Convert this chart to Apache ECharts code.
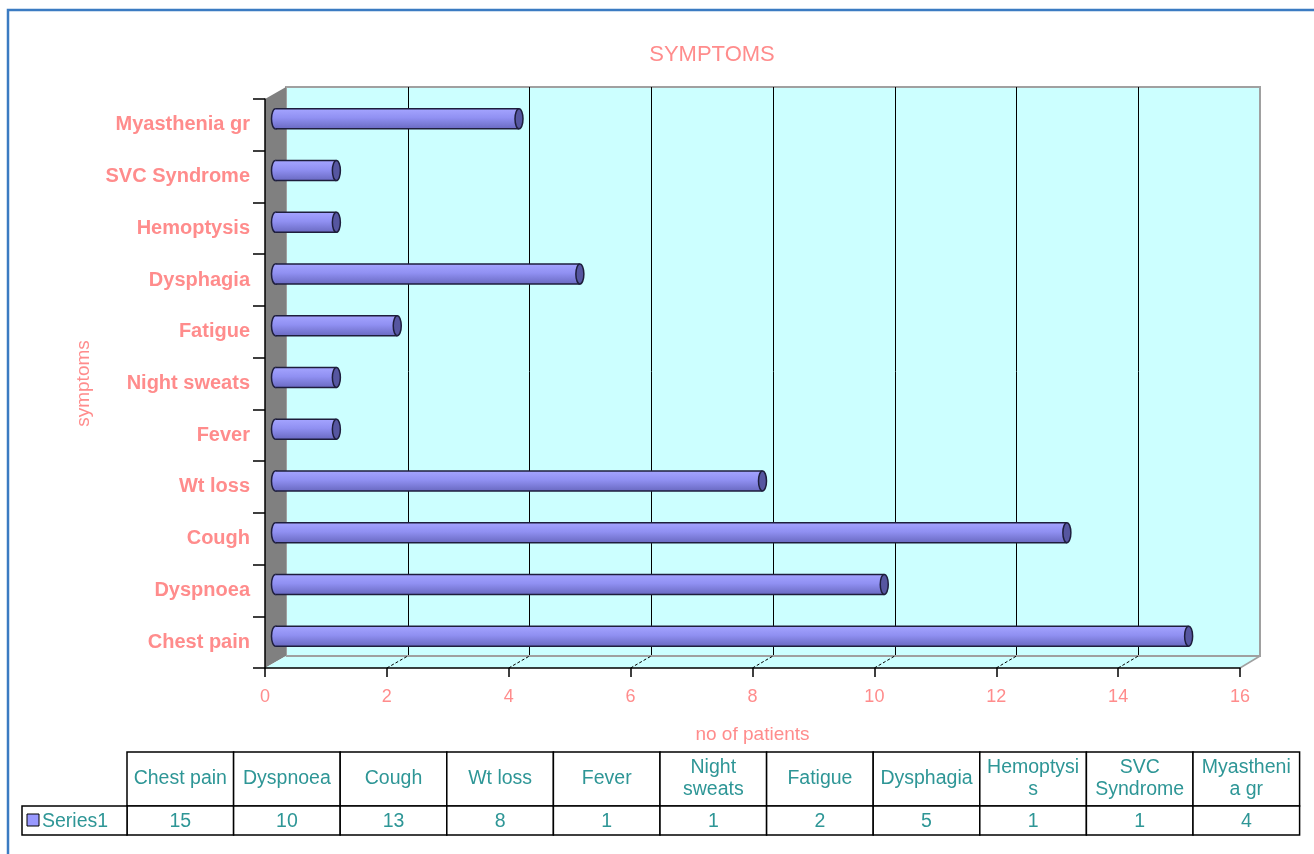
<!DOCTYPE html>
<html><head><meta charset="utf-8">
<script src="https://cdn.jsdelivr.net/npm/echarts@6/dist/echarts.min.js"></script>
<style>html,body{margin:0;padding:0;background:#fff}#c{width:1314px;height:854px}</style>
</head><body><div id="c"></div>
<script>
// ---- data ----
const categories = ['Chest pain','Dyspnoea','Cough','Wt loss','Fever','Night sweats','Fatigue','Dysphagia','Hemoptysis','SVC Syndrome','Myasthenia gr'];
const values = [15, 10, 13, 8, 1, 1, 2, 5, 1, 1, 4];
const tableLabels = ['Chest pain','Dyspnoea','Cough','Wt loss','Fever','Night\nsweats','Fatigue','Dysphagia','Hemoptysi\ns','SVC\nSyndrome','Myastheni\na gr'];
const seriesName = 'Series1';
const titleText = 'SYMPTOMS';
const xName = 'no of patients';
const yName = 'symptoms';
const xMin = 0, xMax = 16, xStep = 2;

// ---- style ----
const salmon = '#FF8C8C';
const teal = '#2E9696';
const FONT = 'Liberation Sans';

// layout
const back = {left: 286, top: 87, width: 974, height: 569};
const front = {left: 265, top: 99, width: 975, height: 569};
const mid = {left: 275.5, top: 93, width: 974, height: 569};

const chart = echarts.init(document.getElementById('c'), null, {renderer: 'canvas'});

function renderBar(params, api) {
  const v = api.value(0), c = api.value(1);
  const s = api.coord([0, c]), e = api.coord([v, c]);
  const h = 20, rx = 4;
  const y0 = s[1] - h / 2;
  const grad = () => new echarts.graphic.LinearGradient(0, 0, 0, 1, [
    {offset: 0, color: '#A4A4FF'}, {offset: 0.45, color: '#9090F2'}, {offset: 1, color: '#6A6AC2'}]);
  const st = '#1E1E3C';
  return {type: 'group', children: [
    {type: 'ellipse', shape: {cx: s[0], cy: s[1], rx: rx, ry: h / 2}, style: {fill: grad(), stroke: st, lineWidth: 1.5}},
    {type: 'rect', shape: {x: s[0], y: y0, width: e[0] - s[0], height: h}, style: {fill: grad()}},
    {type: 'line', shape: {x1: s[0], y1: y0, x2: e[0], y2: y0}, style: {stroke: st, lineWidth: 1.5}},
    {type: 'line', shape: {x1: s[0], y1: y0 + h, x2: e[0], y2: y0 + h}, style: {stroke: st, lineWidth: 1.5}},
    {type: 'ellipse', shape: {cx: e[0], cy: e[1], rx: rx, ry: h / 2}, style: {fill: '#5656A0', stroke: st, lineWidth: 1.5}}
  ]};
}

const option = {
  animation: false,
  backgroundColor: '#fff',
  title: {text: titleText, left: 707, top: 39, textAlign: 'center',
    textStyle: {color: salmon, fontSize: 22, fontWeight: 'normal', fontFamily: FONT}},
  grid: [
    Object.assign({show: true, backgroundColor: '#CCFFFF', borderColor: '#A0A0A0', borderWidth: 2, containLabel: false}, back),
    Object.assign({show: false, containLabel: false}, front),
    Object.assign({show: false, containLabel: false}, mid)
  ],
  xAxis: [
    {gridIndex: 0, type: 'value', min: xMin, max: xMax, interval: xStep,
      axisLine: {show: false}, axisTick: {show: false}, axisLabel: {show: false},
      splitLine: {show: true, showMinLine: false, showMaxLine: false, lineStyle: {color: '#000', width: 1}}},
    {gridIndex: 1, type: 'value', min: xMin, max: xMax, interval: xStep, z: 5,
      axisLine: {show: true, lineStyle: {color: '#000', width: 1.5}},
      axisTick: {show: true, length: 9, lineStyle: {color: '#000', width: 1.5}},
      axisLabel: {color: salmon, fontSize: 18, fontFamily: FONT, margin: 20},
      splitLine: {show: false},
      name: xName, nameLocation: 'middle', nameGap: 57,
      nameTextStyle: {color: salmon, fontSize: 19, fontFamily: FONT}},
    {gridIndex: 2, type: 'value', min: xMin, max: xMax, show: false}
  ],
  yAxis: [
    {gridIndex: 0, type: 'category', data: categories, show: false},
    {gridIndex: 1, type: 'category', data: categories, z: 5,
      axisLine: {show: true, lineStyle: {color: '#000', width: 1.5}},
      axisTick: {show: true, length: 12, lineStyle: {color: '#000', width: 1.5}},
      axisLabel: {color: salmon, fontSize: 20, fontWeight: 'bold', fontFamily: FONT, margin: 15},
      name: yName, nameLocation: 'middle', nameGap: 172, nameRotate: 90,
      nameTextStyle: {color: salmon, fontSize: 19, fontFamily: FONT}},
    {gridIndex: 2, type: 'category', data: categories, show: false}
  ],
  series: [{
    name: seriesName, type: 'custom', xAxisIndex: 2, yAxisIndex: 2, z: 10,
    renderItem: renderBar,
    encode: {x: 0, y: 1},
    data: values.map((v, i) => [v, i])
  }]
};
chart.setOption(option);

// ---- decorations (3D walls, floor, table) ----
const g = [];
g.push({type: 'rect', shape: {x: 8, y: 10, width: 1330, height: 870}, style: {fill: null, stroke: '#3B7BC2', lineWidth: 2.5}, z: 1});
g.push({type: 'polygon', shape: {points: [[front.left, front.top], [back.left, back.top], [back.left, back.top + back.height], [front.left, front.top + front.height]]},
  style: {fill: '#808080'}, z: 2});
const fb = front.top + front.height, bb = back.top + back.height;
g.push({type: 'polygon', shape: {points: [[front.left, fb], [back.left, bb], [back.left + back.width, bb], [front.left + front.width, fb]]},
  style: {fill: '#CCFFFF'}, z: 2});
g.push({type: 'line', shape: {x1: back.left, y1: bb, x2: back.left + back.width, y2: bb}, style: {stroke: '#A0A0A0', lineWidth: 2}, z: 2});
g.push({type: 'line', shape: {x1: front.left + front.width, y1: fb, x2: back.left + back.width, y2: bb}, style: {stroke: '#A0A0A0', lineWidth: 1.5}, z: 2});
for (let v = xMin + xStep; v < xMax; v += xStep) {
  const fx = chart.convertToPixel({xAxisIndex: 1}, v);
  const bx = chart.convertToPixel({xAxisIndex: 0}, v);
  g.push({type: 'line', shape: {x1: fx, y1: fb, x2: bx, y2: bb}, style: {stroke: '#000', lineWidth: 1, lineDash: [3, 2]}, z: 3});
}
// data table
const tX = 127, tW = 106.6, hY = 752, hH = 54, dY = 806, dH = 29;
const tfont = {fontSize: 19.5, fontFamily: FONT, fill: teal};
tableLabels.forEach((lab, i) => {
  const x = tX + i * tW;
  g.push({type: 'rect', shape: {x: x, y: hY, width: tW, height: hH}, style: {fill: '#fff', stroke: '#000', lineWidth: 1.5}, z: 4});
  g.push({type: 'rect', shape: {x: x, y: dY, width: tW, height: dH}, style: {fill: '#fff', stroke: '#000', lineWidth: 1.5}, z: 4});
  g.push({type: 'text', x: x + tW / 2, y: hY + hH / 2, style: Object.assign({text: lab, align: 'center', verticalAlign: 'middle', lineHeight: 22}, tfont), z: 5});
  g.push({type: 'text', x: x + tW / 2, y: dY + dH / 2 + 1, style: Object.assign({text: String(values[i]), align: 'center', verticalAlign: 'middle'}, tfont), z: 5});
});
g.push({type: 'rect', shape: {x: 22, y: dY, width: tX - 22, height: dH}, style: {fill: '#fff', stroke: '#000', lineWidth: 1.5}, z: 4});
g.push({type: 'rect', shape: {x: 27, y: dY + 8, width: 12, height: 12}, style: {fill: '#9999FF', stroke: '#000', lineWidth: 1}, z: 5});
g.push({type: 'text', x: 42, y: dY + dH / 2 + 1, style: Object.assign({text: seriesName, align: 'left', verticalAlign: 'middle'}, tfont), z: 5});

chart.setOption({graphic: g});
</script>
</body></html>
